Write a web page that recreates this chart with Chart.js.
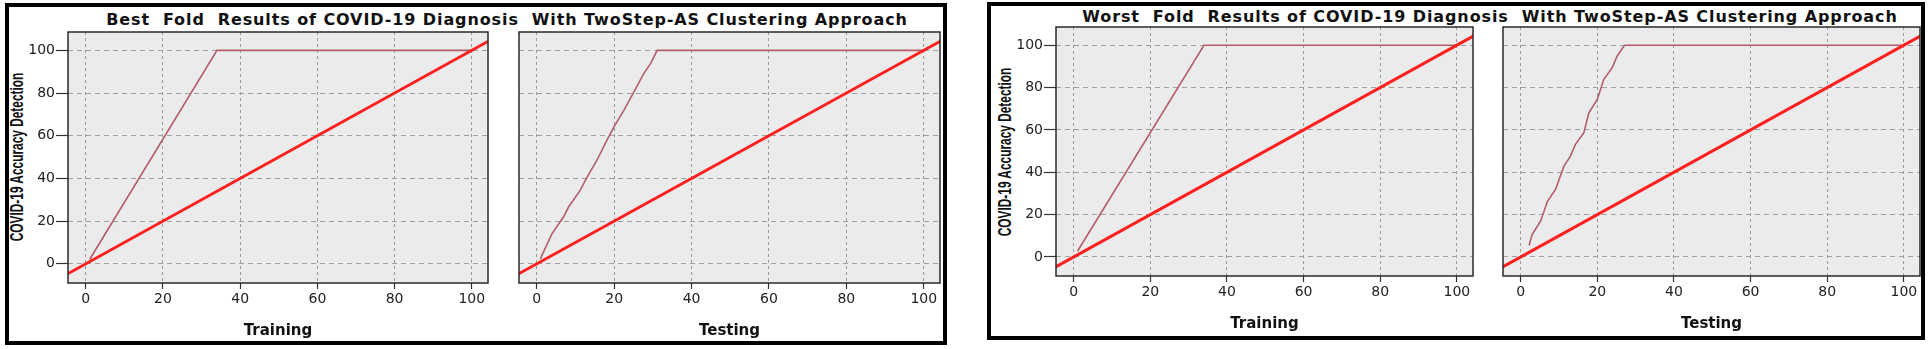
<!DOCTYPE html>
<html>
<head>
<meta charset="utf-8">
<script src="https://cdn.jsdelivr.net/npm/chart.js@4.4.1/dist/chart.umd.min.js"></script>
<style>
  body { margin: 0; width: 1930px; height: 349px; background: #fff; position: relative; overflow: hidden; }
  .panel { position: absolute; border: 4px solid #000; box-sizing: border-box; }
  .title {
    position: absolute; transform: translate(-50%, -50%);
    font-family: "DejaVu Sans", sans-serif; font-weight: bold; font-size: 16px;
    letter-spacing: 0.9px; white-space: pre; color: #111;
  }
  /* condensed, rotated y-axis title */
  .ytitle {
    position: absolute; transform: translate(-50%, -50%) rotate(-90deg) scaleX(0.66);
    font-family: "Liberation Sans", Arial, sans-serif; font-weight: bold; font-size: 18px;
    white-space: nowrap; color: #111;
  }
  canvas { position: absolute; }
</style>
</head>
<body>
<div class="panel" style="left:5px;top:3px;width:942px;height:342px"></div>
<div class="panel" style="left:987px;top:2px;width:938px;height:338px"></div>
<div class="title" style="left:507px;top:19px">Best  Fold  Results of COVID-19 Diagnosis  With TwoStep-AS Clustering Approach</div>
<div class="title" style="left:1490px;top:16px">Worst  Fold  Results of COVID-19 Diagnosis  With TwoStep-AS Clustering Approach</div>
<div class="ytitle" style="left:17px;top:157px">COVID-19 Accuracy Detection</div>
<div class="ytitle" style="left:1005px;top:152px">COVID-19 Accuracy Detection</div>

<canvas id="bestTrain" width="485" height="323" style="left:8px;top:22px"></canvas>
<canvas id="bestTest" width="440" height="323" style="left:505px;top:22px"></canvas>
<canvas id="worstTrain" width="485" height="323" style="left:993px;top:17px"></canvas>
<canvas id="worstTest" width="436" height="323" style="left:1489px;top:17px"></canvas>

<script>
const tickValues = [0, 20, 40, 60, 80, 100];

// reference diagonal (y = x)
const refX = [-5, 105];
const refY = [-5, 105];

// best fold
const bestTrainX = [1, 34, 100];
const bestTrainY = [2, 100, 100];
const bestTestX = [0.9, 3.9, 6.9, 8.2, 11.2, 13, 15.5, 18.1, 19.9, 22.5, 25.1, 27.6, 29.4, 31.1, 100];
const bestTestY = [2.3, 14, 21.9, 26.6, 34.4, 40.6, 48.4, 57.8, 64, 71.9, 80.5, 89, 93.8, 100, 100];

// worst fold
const worstTrainX = [1, 34, 100];
const worstTrainY = [2.7, 100, 100];
const worstTestX = [2.2, 3, 5.2, 7, 9.1, 11.3, 13, 14.3, 16.5, 17.8, 20, 21.7, 23.9, 25.2, 27.1, 100];
const worstTestY = [5.4, 10.6, 16.9, 26.3, 31.9, 42.9, 47.6, 53.2, 58.7, 68.1, 74.4, 83.9, 89.4, 94.9, 100, 100];

function toPoints(xs, ys) {
  return xs.map((x, i) => ({ x: x, y: ys[i] }));
}

// grey plot background and dark frame round the chart area
const plotFrame = {
  id: "plotFrame",
  beforeDraw(chart) {
    const { ctx, chartArea: a } = chart;
    ctx.save();
    ctx.fillStyle = "#ebebeb";
    ctx.fillRect(a.left, a.top, a.right - a.left, a.bottom - a.top);
    ctx.restore();
  },
  afterDatasetsDraw(chart) {
    const { ctx, chartArea: a } = chart;
    ctx.save();
    ctx.strokeStyle = "#2a2a2a";
    ctx.lineWidth = 1.5;
    ctx.strokeRect(a.left, a.top, a.right - a.left, a.bottom - a.top);
    ctx.restore();
  }
};

function createPlot(id, cfg) {
  const ctx = document.getElementById(id).getContext("2d");
  return new Chart(ctx, {
    type: "scatter",
    data: {
      datasets: [
        {
          data: toPoints(refX, refY),
          showLine: true,
          borderColor: "#ff1f1f",
          borderWidth: 3,
          pointRadius: 0
        },
        {
          data: toPoints(cfg.xs, cfg.ys),
          showLine: true,
          borderColor: "#b25e6a",
          borderWidth: 1.6,
          pointRadius: 0
        }
      ]
    },
    options: {
      responsive: false,
      animation: false,
      devicePixelRatio: 1,
      layout: { padding: { top: 10, right: cfg.padRight, bottom: 0, left: 0 } },
      plugins: { legend: { display: false }, tooltip: { enabled: false } },
      scales: {
        x: {
          type: "linear",
          min: -4.6,
          max: 104.2,
          afterBuildTicks: (s) => { s.ticks = tickValues.map((v) => ({ value: v })); },
          afterFit: (s) => { s.height = cfg.xAxisH; },
          ticks: { color: "#222", padding: 2, maxRotation: 0, font: { family: "DejaVu Sans", size: 14 } },
          grid: { color: "#9a9a9a", lineWidth: 1, tickLength: 6, tickColor: "#333", tickWidth: 1.2 },
          border: { display: false, dash: [3, 3] },
          title: {
            display: true,
            text: cfg.xTitle,
            color: "#111",
            padding: { top: 0, bottom: cfg.xTitlePad },
            font: { family: "DejaVu Sans", size: 15, weight: "bold", lineHeight: 1.2 }
          }
        },
        y: {
          type: "linear",
          min: -9,
          max: 108.6,
          afterBuildTicks: (s) => { s.ticks = tickValues.map((v) => ({ value: v })); },
          afterFit: (s) => { s.width = cfg.yAxisW; },
          ticks: { display: cfg.showY, color: "#222", padding: 1, font: { family: "DejaVu Sans", size: 14 } },
          grid: { color: "#a0a0a0", lineWidth: 1, drawTicks: cfg.showY, tickLength: 12, tickColor: "#333", tickWidth: 1.2 },
          border: { display: false, dash: [5, 4] }
        }
      }
    },
    plugins: [plotFrame]
  });
}

createPlot("bestTrain", { xs: bestTrainX, ys: bestTrainY, xTitle: "Training", showY: true,
  yAxisW: 60, xAxisH: 62, padRight: 5, xTitlePad: 5 });
createPlot("bestTest", { xs: bestTestX, ys: bestTestY, xTitle: "Testing", showY: false,
  yAxisW: 14, xAxisH: 62, padRight: 5, xTitlePad: 5 });
createPlot("worstTrain", { xs: worstTrainX, ys: worstTrainY, xTitle: "Training", showY: true,
  yAxisW: 63, xAxisH: 64, padRight: 5, xTitlePad: 7 });
createPlot("worstTest", { xs: worstTestX, ys: worstTestY, xTitle: "Testing", showY: false,
  yAxisW: 14, xAxisH: 64, padRight: 5, xTitlePad: 7 });
</script>
</body>
</html>
